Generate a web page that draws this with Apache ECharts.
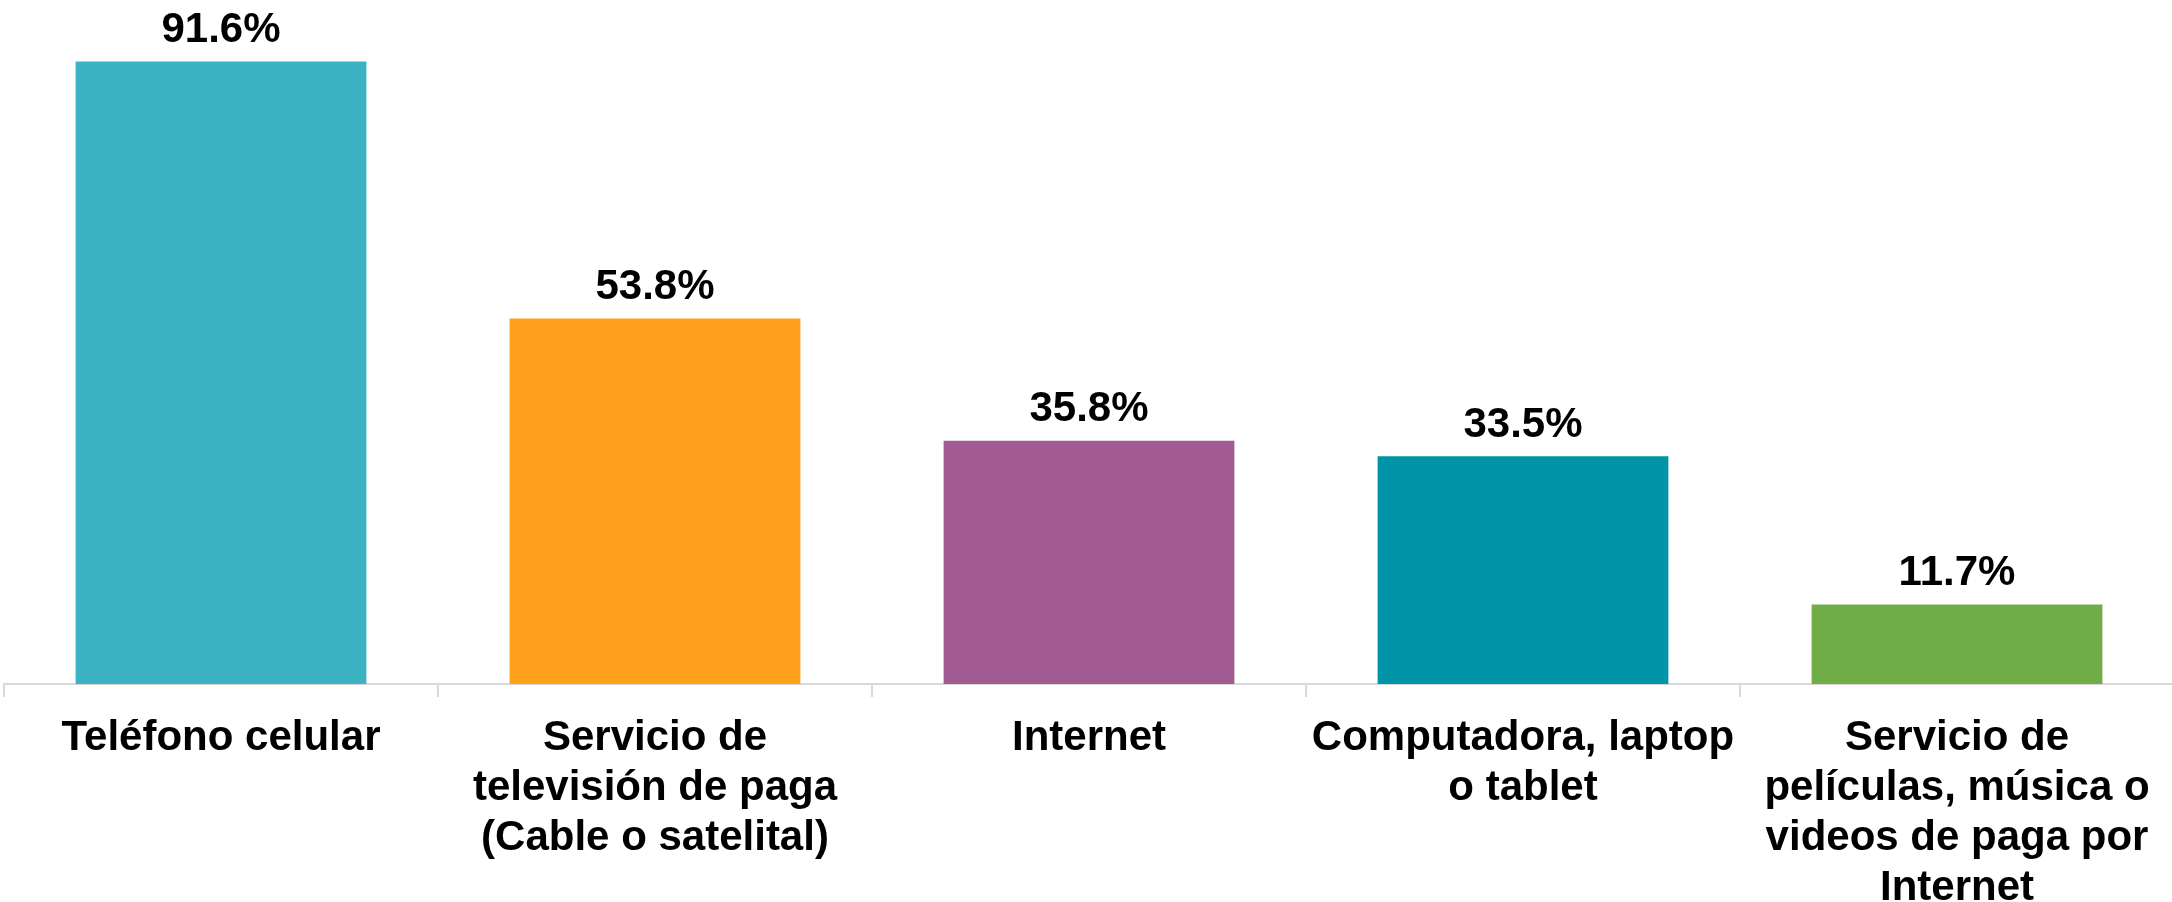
<!DOCTYPE html>
<html>
<head>
<meta charset="utf-8">
<script src="https://cdn.jsdelivr.net/npm/echarts@6/dist/echarts.min.js"></script>
<style>
html,body{margin:0;padding:0;background:#fff;}
#chart{width:2172px;height:902px;}
</style>
</head>
<body>
<div id="chart"></div>
<script>
const categories = [
  "Teléfono celular",
  "Servicio de\ntelevisión de paga\n(Cable o satelital)",
  "Internet",
  "Computadora, laptop\no tablet",
  "Servicio de\npelículas, música o\nvideos de paga por\nInternet"
];
const values = [91.6, 53.8, 35.8, 33.5, 11.7];
const colors = ["#3BB3C3", "#FF9F1A", "#A25A93", "#0094A8", "#70AD47"];

const chart = echarts.init(document.getElementById('chart'), null, {renderer: 'canvas'});
chart.setOption({
  animation: false,
  backgroundColor: '#ffffff',
  grid: {left: 4, right: -2, top: 4.5, bottom: 218, containLabel: false, outerBoundsMode: 'none'},
  xAxis: {
    type: 'category',
    data: categories,
    axisLine: {show: true, lineStyle: {color: '#d9d9d9', width: 2}},
    axisTick: {show: true, length: 13, lineStyle: {color: '#d9d9d9', width: 2}},
    axisLabel: {
      interval: 0,
      margin: 29,
      color: '#000000',
      fontFamily: 'Liberation Sans, Arial, sans-serif',
      fontWeight: 'bold',
      fontSize: 42,
      lineHeight: 50,
      align: 'center'
    }
  },
  yAxis: {
    type: 'value',
    min: 0,
    max: 100,
    show: false,
    splitLine: {show: false}
  },
  series: [{
    type: 'bar',
    data: values.map((v, i) => ({value: v, itemStyle: {color: colors[i]}})),
    barCategoryGap: '33%',
    label: {
      show: true,
      position: 'top',
      distance: 10,
      color: '#000000',
      fontFamily: 'Liberation Sans, Arial, sans-serif',
      fontWeight: 'bold',
      fontSize: 42,
      formatter: p => p.value.toFixed(1) + '%'
    }
  }]
});
</script>
</body>
</html>
